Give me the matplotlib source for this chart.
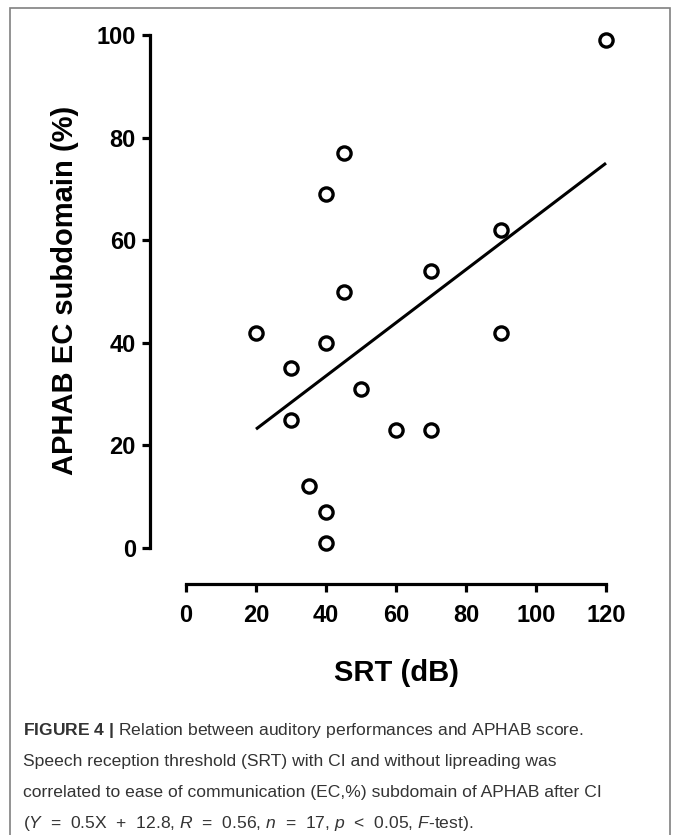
import matplotlib.pyplot as plt
import numpy as np
from matplotlib.patches import Rectangle

# данные
srt_db = [20, 30, 30, 35, 40, 40, 40, 40, 45, 45, 50, 60, 70, 70, 90, 90, 120]
aphab_ec = [42, 35, 25, 12, 69, 40, 7, 1, 77, 50, 31, 23, 54, 23, 62, 42, 99]
x_ticks = [0, 20, 40, 60, 80, 100, 120]
y_ticks = [0, 20, 40, 60, 80, 100]

caption = [
    r"$\mathbf{FIGURE\ 4\ |}$ Relation between auditory performances and APHAB score.",
    "Speech reception threshold (SRT) with CI and without lipreading was",
    "correlated to ease of communication (EC,%) subdomain of APHAB after CI",
    r"($Y$  =  0.5X  +  12.8, $R$  =  0.56, $n$  =  17, $p$  <  0.05, $F$-test).",
]

plt.rcParams['font.family'] = ['Liberation Sans', 'DejaVu Sans']
plt.rcParams['mathtext.fontset'] = 'custom'
plt.rcParams['mathtext.rm'] = 'Liberation Sans'
plt.rcParams['mathtext.it'] = 'Liberation Sans:italic'
plt.rcParams['mathtext.bf'] = 'Liberation Sans:bold'

W, H = 673, 835
fig = plt.figure(figsize=(W / 100, H / 100), dpi=100)

# область данных: x 0..120 -> 186..606 px, y 0..100 -> 548..35 px
ax = fig.add_axes([186 / W, 1 - 548 / H, 420 / W, 513 / H])
ax.set_xlim(0, 120)
ax.set_ylim(0, 100)

# точки
ax.plot(srt_db, aphab_ec, 'o', ms=9.5, mfc='white', mec='black', mew=2.4,
        clip_on=False, zorder=3)

# линия регрессии
k, b = np.polyfit(srt_db, aphab_ec, 1)
fx = np.array([min(srt_db), max(srt_db)])
ax.plot(fx, k * fx + b, color='black', lw=2.2, solid_capstyle='butt', clip_on=False)

# оси в стиле Prism (смещённые)
for s in ['top', 'right']:
    ax.spines[s].set_visible(False)
ax.spines['left'].set_position(('outward', 26))
ax.spines['bottom'].set_position(('outward', 26))
ax.spines['left'].set_bounds(0, 100)
ax.spines['bottom'].set_bounds(0, 120)
for s in ['left', 'bottom']:
    ax.spines[s].set_linewidth(2.3)

ax.set_xticks(x_ticks)
ax.set_yticks(y_ticks)
ax.tick_params(direction='out', length=6, width=2.3, labelsize=17)
ax.tick_params(axis='x', pad=8)
ax.tick_params(axis='y', pad=4)
for lab in ax.get_xticklabels() + ax.get_yticklabels():
    lab.set_fontweight('bold')

# подписи осей
fig.text(396 / W, 1 - 681 / H, 'SRT (dB)', ha='center', va='baseline',
         fontsize=21, fontweight='bold')
fig.text(65 / W, 1 - 290 / H, 'APHAB EC subdomain (%)', ha='center', va='center',
         rotation=90, fontsize=21, fontweight='bold')

# рамка
fig.add_artist(Rectangle((10 / W, -0.05), 660 / W, 1 - 8 / H + 0.05,
                         transform=fig.transFigure, fill=False,
                         ec='#808080', lw=1.2))

# подпись к рисунку
for i, line in enumerate(caption):
    fig.text(23 / W, 1 - (735 + 31 * i) / H, line, ha='left', va='baseline',
             fontsize=12.6, color='#333333')

fig.savefig('out.png', dpi=100)
